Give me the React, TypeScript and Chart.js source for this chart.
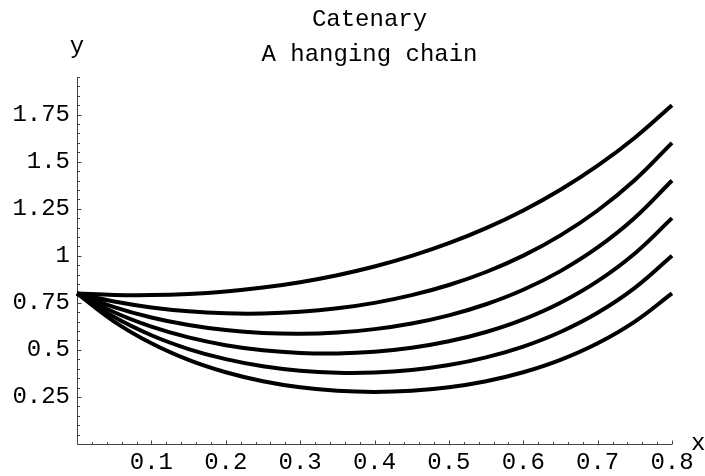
import React, { useEffect, useRef } from "react";
import { Chart, registerables } from "chart.js";

Chart.register(...registerables);

// ---- data ----
const xValues = [0, 0.05, 0.1, 0.15, 0.2, 0.25, 0.3, 0.35, 0.4, 0.45, 0.5, 0.55, 0.6, 0.65, 0.7, 0.75, 0.8];
const chain1 = [0.8, 0.792, 0.7911, 0.7973, 0.8106, 0.8313, 0.8599, 0.897, 0.9431, 0.9994, 1.0668, 1.1467, 1.2407, 1.3507, 1.4788, 1.6276, 1.8];
const chain2 = [0.8, 0.7568, 0.7255, 0.7049, 0.6944, 0.6935, 0.7021, 0.7208, 0.7499, 0.7908, 0.8448, 0.9139, 1.0007, 1.1084, 1.2407, 1.4026, 1.6];
const chain3 = [0.8, 0.7274, 0.6723, 0.6322, 0.6052, 0.5899, 0.5857, 0.5924, 0.6103, 0.6402, 0.6836, 0.7425, 0.8195, 0.9186, 1.0441, 1.2021, 1.4];
const chain4 = [0.8, 0.7, 0.6235, 0.5663, 0.5252, 0.4982, 0.4838, 0.4811, 0.4901, 0.5112, 0.5456, 0.595, 0.6622, 0.7509, 0.8656, 1.0126, 1.2];
const chain5 = [0.8, 0.6743, 0.5777, 0.5046, 0.4508, 0.4132, 0.3897, 0.3788, 0.38, 0.3933, 0.4196, 0.4603, 0.5178, 0.5952, 0.6972, 0.8296, 1.0];
const chain6 = [0.8, 0.6506, 0.5352, 0.447, 0.3811, 0.3335, 0.3013, 0.2827, 0.2766, 0.2827, 0.3013, 0.3335, 0.3811, 0.447, 0.5352, 0.6506, 0.8];

const xTickValues = [0.1, 0.2, 0.3, 0.4, 0.5, 0.6, 0.7, 0.8];
const xTickLabels = ["0.1", "0.2", "0.3", "0.4", "0.5", "0.6", "0.7", "0.8"];
const yTickValues = [0.25, 0.5, 0.75, 1, 1.25, 1.5, 1.75];
const yTickLabels = ["0.25", "0.5", "0.75", "1", "1.25", "1.5", "1.75"];

const titleLines = ["Catenary", "A hanging chain"];
const xAxisLabel = "x";
const yAxisLabel = "y";

const X_MIN = 0;
const X_MAX = 0.8;
const Y_MIN = 0;
const Y_MAX = 1.95;
const X_MINOR_STEP = 0.02;
const Y_MINOR_STEP = 0.05;

const FONT = "'Liberation Mono', 'DejaVu Sans Mono', monospace";

const series = [chain1, chain2, chain3, chain4, chain5, chain6];

const axesPlugin = {
  id: "mmaAxes",
  beforeDatasetsDraw(chart: any) {
    const ctx = chart.ctx;
    const xs = chart.scales.x;
    const ys = chart.scales.y;
    const x0 = Math.round(xs.getPixelForValue(X_MIN)) + 0.5;
    const x1 = xs.getPixelForValue(X_MAX);
    const y0 = Math.round(ys.getPixelForValue(Y_MIN)) + 0.5;
    const y1 = ys.getPixelForValue(Y_MAX);
    ctx.save();
    ctx.strokeStyle = "#444";
    ctx.lineWidth = 1;
    ctx.beginPath();
    ctx.moveTo(x0, y0);
    ctx.lineTo(x1, y0);
    ctx.moveTo(x0, y0);
    ctx.lineTo(x0, y1);
    // x ticks
    const nx = Math.round((X_MAX - X_MIN) / X_MINOR_STEP);
    for (let i = 1; i <= nx; i++) {
      const v = X_MIN + i * X_MINOR_STEP;
      const major = xTickValues.some((t) => Math.abs(t - v) < 1e-9);
      const px = Math.round(xs.getPixelForValue(v)) + 0.5;
      ctx.moveTo(px, y0);
      ctx.lineTo(px, y0 - (major ? 4 : 2.5));
    }
    const ny = Math.round((Y_MAX - Y_MIN) / Y_MINOR_STEP);
    for (let i = 1; i <= ny; i++) {
      const v = Y_MIN + i * Y_MINOR_STEP;
      const major = yTickValues.some((t) => Math.abs(t - v) < 1e-9);
      const py = Math.round(ys.getPixelForValue(v)) + 0.5;
      ctx.moveTo(x0, py);
      ctx.lineTo(x0 + (major ? 4 : 2.5), py);
    }
    ctx.stroke();
    ctx.restore();
  },
  afterDraw(chart: any) {
    const ctx = chart.ctx;
    const xs = chart.scales.x;
    const ys = chart.scales.y;
    const area = chart.chartArea;
    const cx = (area.left + area.right) / 2 - 5;
    ctx.save();
    ctx.fillStyle = "#000";
    ctx.font = `24px ${FONT}`;
    ctx.textAlign = "center";
    ctx.textBaseline = "alphabetic";
    ctx.fillText(titleLines[0], cx, 26);
    ctx.fillText(titleLines[1], cx, 61);
    ctx.textAlign = "center";
    ctx.fillText(yAxisLabel, xs.getPixelForValue(X_MIN), 53);
    ctx.textAlign = "left";
    ctx.fillText(xAxisLabel, xs.getPixelForValue(X_MAX) + 19, ys.getPixelForValue(Y_MIN) + 6);
    ctx.restore();
  },
};

export default function App() {
  const ref = useRef<HTMLCanvasElement | null>(null);
  useEffect(() => {
    if (!ref.current) return;
    const chart = new Chart(ref.current, {
      type: "line",
      data: {
        datasets: series.map((s, k) => ({
          label: `chain ${k + 1}`,
          data: xValues.map((x, i) => ({ x, y: s[i] })),
          borderColor: "#000",
          borderWidth: 4,
          pointRadius: 0,
          tension: 0.4,
          fill: false,
          clip: false as any,
        })),
      },
      options: {
        responsive: false,
        animation: false,
        devicePixelRatio: 1,
        layout: { padding: { top: 77, right: 33, left: 0, bottom: 0 } },
        plugins: {
          legend: { display: false },
          tooltip: { enabled: false },
          title: { display: false },
        },
        scales: {
          x: {
            type: "linear",
            min: X_MIN,
            max: X_MAX,
            border: { display: false },
            grid: { display: false, drawTicks: false },
            afterBuildTicks: (s: any) => {
              s.ticks = xTickValues.map((v) => ({ value: v }));
            },
            afterFit: (s: any) => {
              s.height = 32;
            },
            ticks: {
              padding: 4,
              maxRotation: 0,
              autoSkip: false,
              color: "#000",
              font: { family: FONT, size: 24 },
              callback: (_v: any, i: number) => xTickLabels[i],
            },
          },
          y: {
            type: "linear",
            min: Y_MIN,
            max: Y_MAX,
            border: { display: false },
            grid: { display: false, drawTicks: false },
            afterBuildTicks: (s: any) => {
              s.ticks = yTickValues.map((v) => ({ value: v }));
            },
            afterFit: (s: any) => {
              s.width = 77;
            },
            ticks: {
              padding: 7,
              autoSkip: false,
              color: "#000",
              font: { family: FONT, size: 24 },
              callback: (_v: any, i: number) => yTickLabels[i],
            },
          },
        },
      },
      plugins: [axesPlugin],
    });
    return () => chart.destroy();
  }, []);
  return (
    <div style={{ position: "fixed", left: 0, top: 0, width: 705, height: 476, background: "#fff" }}>
      <canvas ref={ref} width={705} height={476} style={{ display: "block" }} />
    </div>
  );
}
